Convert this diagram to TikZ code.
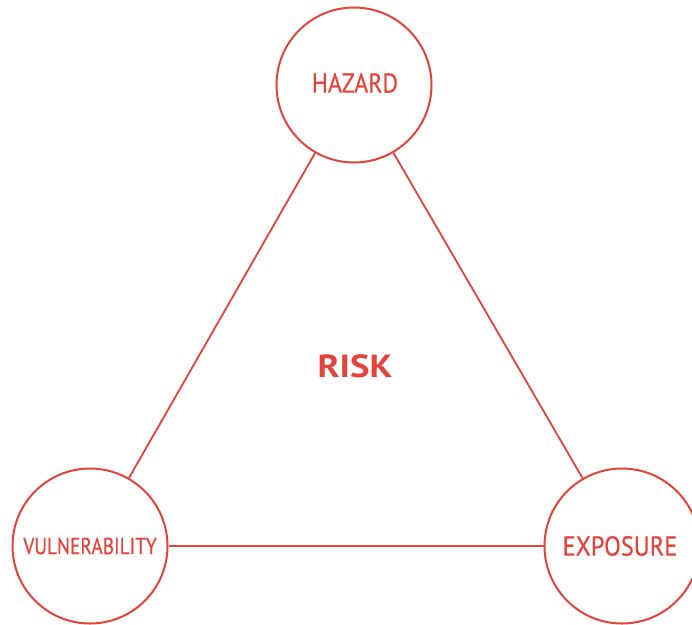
\documentclass[tikz,border=0pt]{standalone}
\usepackage{fontspec}
\setmainfont{PT Sans}
\newfontfamily\lblfont[FakeBold=0.4]{PT Sans}
\definecolor{riskred}{HTML}{E2433A}
\begin{document}
\begin{tikzpicture}[x=1pt,y=-1pt,
  bubble/.style={circle,draw=riskred,line width=2pt,minimum size=155pt,inner sep=0pt,text=riskred},
  link/.style={draw=riskred,line width=1.8pt},
  lbl/.style={text=riskred,inner sep=0pt}]
\useasboundingbox (0,0) rectangle (692,624);
\node[bubble] (hz) at (354,85) {};
\node[bubble] (vu) at (90,546) {};
\node[bubble] (ex) at (622,546) {};
\node[lbl] (hzt) at (355,83) {\lblfont\fontsize{26}{26}\selectfont\scalebox{0.92}[1.05]{HAZARD}};
\node[lbl] (vut) at (90,546) {\lblfont\fontsize{22}{22}\selectfont\scalebox{0.88}[1.05]{VULNERABILITY}};
\node[lbl] (ext) at (620,546) {\lblfont\fontsize{26}{26}\selectfont\scalebox{0.94}[1.05]{EXPOSURE}};
\node[lbl] (risk) at (355,366) {\fontsize{32}{32}\selectfont\bfseries\scalebox{1.15}[1]{RISK}};
\draw[link] (hz) -- (vu);
\draw[link] (hz) -- (ex);
\draw[link] (vu) -- (ex);
\end{tikzpicture}
\end{document}
